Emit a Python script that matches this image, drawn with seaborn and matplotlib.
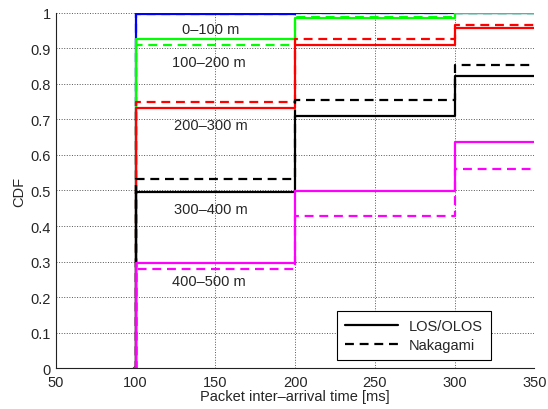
import numpy as np
import pandas as pd
import matplotlib
matplotlib.use("Agg")
import matplotlib.pyplot as plt
import seaborn as sns
from matplotlib.lines import Line2D

# packet inter-arrival times where the CDF steps [ms]
times = [99, 100, 200, 300, 350]
ranges = ["0–100 m", "100–200 m", "200–300 m", "300–400 m", "400–500 m"]
colors = ["#0000ff", "#00ff00", "#ff0000", "#000000", "#ff00ff"]

# CDF levels after the jumps at 100, 200, 300 ms
los_levels = {
    "0–100 m":   [0.995, 1.000, 1.000],
    "100–200 m": [0.925, 0.985, 0.998],
    "200–300 m": [0.733, 0.908, 0.956],
    "300–400 m": [0.497, 0.710, 0.822],
    "400–500 m": [0.297, 0.498, 0.636],
}
nak_levels = {
    "0–100 m":   [0.997, 1.000, 1.000],
    "100–200 m": [0.909, 0.988, 0.999],
    "200–300 m": [0.750, 0.925, 0.966],
    "300–400 m": [0.533, 0.754, 0.853],
    "400–500 m": [0.278, 0.427, 0.560],
}

# label positions (x in ms, y in CDF)
label_pos = [(147, 0.953), (146, 0.861), (147, 0.684), (147, 0.449), (146, 0.247)]

rows = []
for model, levels in [("LOS/OLOS", los_levels), ("Nakagami", nak_levels)]:
    for r in ranges:
        ys = [0.0] + levels[r] + [levels[r][-1]]
        for t, y in zip(times, ys):
            rows.append({"time": t, "cdf": y, "range": r, "model": model})
df = pd.DataFrame(rows)

sns.set_style("white")
plt.rcParams["font.family"] = ["Liberation Sans", "DejaVu Sans"]

fig = plt.figure(figsize=(5.48, 4.1), dpi=100)
ax = fig.add_axes([0.102, 0.099, 0.873, 0.868])

sns.lineplot(data=df, x="time", y="cdf", hue="range", style="model",
             palette=dict(zip(ranges, colors)),
             dashes={"LOS/OLOS": "", "Nakagami": (4, 2.6)},
             hue_order=ranges, style_order=["LOS/OLOS", "Nakagami"],
             estimator=None, drawstyle="steps-post", linewidth=1.6,
             legend=False, ax=ax)

for (x, y), r in zip(label_pos, ranges):
    ax.text(x, y, r, fontsize=10.5, ha="center", va="center")

ax.set_xlim(50, 350)
ax.set_ylim(0, 1)
ax.set_xticks([50, 100, 150, 200, 250, 300, 350])
ax.set_yticks(np.arange(0, 11) / 10)
ax.set_yticklabels(["0", "0.1", "0.2", "0.3", "0.4", "0.5", "0.6", "0.7", "0.8", "0.9", "1"])
ax.tick_params(direction="in", labelsize=10.5, length=4, width=0.6, color="#222222")
ax.tick_params(axis="x", pad=5)
ax.grid(True, linestyle=":", color="#555555", linewidth=0.7)
for s in ["top", "right"]:
    ax.spines[s].set_visible(False)
for s in ["left", "bottom"]:
    ax.spines[s].set_color("#222222")
    ax.spines[s].set_linewidth(0.8)
ax.set_xlabel("Packet inter–arrival time [ms]", fontsize=10.5, labelpad=0)
ax.set_ylabel("CDF", fontsize=10.5, labelpad=3)

handles = [Line2D([], [], color="black", linewidth=1.6),
           Line2D([], [], color="black", linewidth=1.6, dashes=(4, 2.6))]
leg = ax.legend(handles, ["LOS/OLOS", "Nakagami"], loc="lower right",
                bbox_to_anchor=(0.91, 0.024), borderaxespad=0, fontsize=10.5,
                frameon=True, fancybox=False, edgecolor="black", framealpha=1,
                handlelength=3.6, borderpad=0.55, labelspacing=0.3)
leg.get_frame().set_linewidth(0.8)

fig.savefig("out.png", dpi=100)
